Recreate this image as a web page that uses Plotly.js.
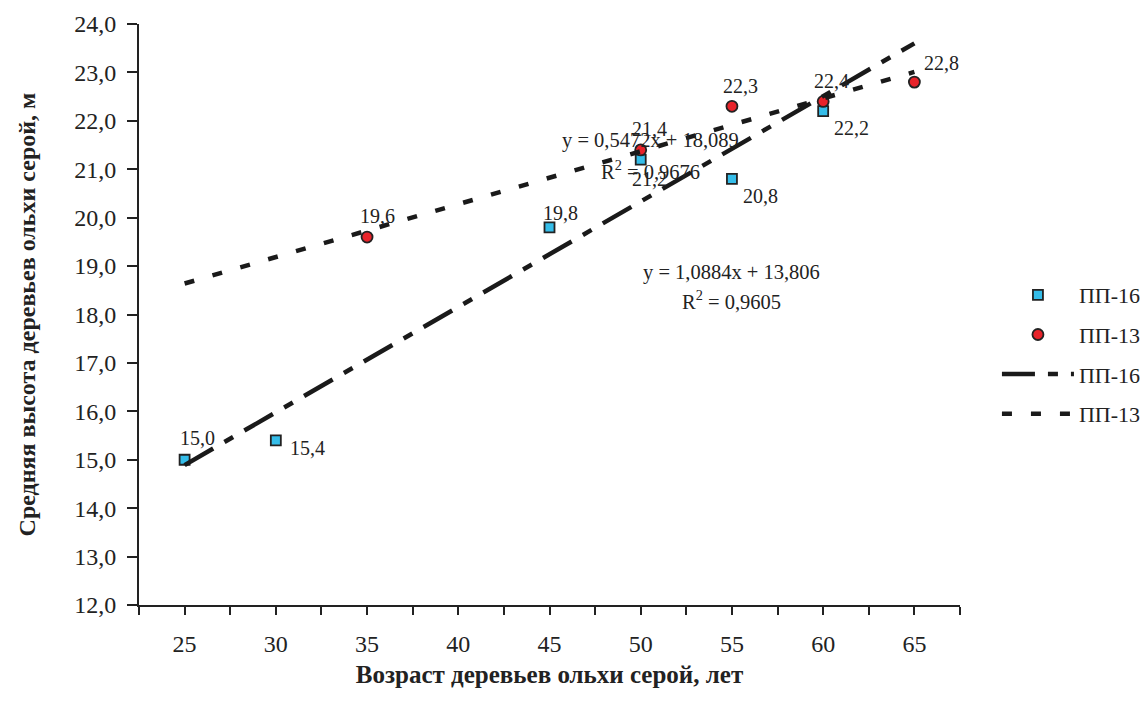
<!DOCTYPE html>
<html>
<head>
<meta charset="utf-8">
<script src="https://cdn.plot.ly/plotly-3.0.1.min.js"></script>
<style>html,body{margin:0;padding:0;background:#fff;}#chart{width:1148px;height:713px;}</style>
</head>
<body>
<div id="chart"></div>
<script>
// Data
const ages16 = [25, 30, 45, 50, 55, 60];
const heights16 = [15.0, 15.4, 19.8, 21.2, 20.8, 22.2];
const ages13 = [35, 50, 55, 60, 65];
const heights13 = [19.6, 21.4, 22.3, 22.4, 22.8];
// Trend line endpoints (as drawn in the reference)
const trendX16 = [25, 65];
const trendY16 = [14.89, 23.60];
const trendX13 = [25, 65];
const trendY13 = [18.64, 23.01];
const eq16 = ["y = 1,0884x + 13,806", "R<sup>2</sup> = 0,9605"];
const eq13 = ["y = 0,5472x + 18,089", "R<sup>2</sup> = 0,9676"];
const seriesNames = ["ПП-16", "ПП-13"];
const tickPositions = [22.5, 25, 27.5, 30, 32.5, 35, 37.5, 40, 42.5, 45, 47.5, 50, 52.5, 55, 57.5, 60, 62.5, 65, 67.5];
const tickLabels = ["", "25", "", "30", "", "35", "", "40", "", "45", "", "50", "", "55", "", "60", "", "65", ""];

// label offsets (px) for data labels: [dx, dy]
const off16 = [[13, 22], [32, -8], [11, 14], [9, -19], [29, -17], [28, -17]];
const off13 = [[10, 21], [9, 21], [9, 20], [8, 20], [27, 19]];

const serif = "Liberation Serif, Times New Roman, serif";
const fmt = v => v.toFixed(1).replace('.', ',');
const ink = '#222';

const traces = [
  {x: ages16, y: heights16, name: seriesNames[0], mode: 'markers', type: 'scatter', legendgroup: 'a',
   marker: {symbol: 'square', size: 10, color: '#35bde9', line: {color: ink, width: 1.8}}},
  {x: ages13, y: heights13, name: seriesNames[1], mode: 'markers', type: 'scatter', legendgroup: 'b',
   marker: {symbol: 'circle', size: 11, color: '#e8232a', line: {color: ink, width: 1.8}}},
  {x: trendX16, y: trendY16, name: seriesNames[0], mode: 'lines', type: 'scatter', legendgroup: 'c',
   line: {color: '#1a1a1a', width: 4.5, dash: '33px,13px,10px,13px'}},
  {x: trendX13, y: trendY13, name: seriesNames[1], mode: 'lines', type: 'scatter', legendgroup: 'd',
   line: {color: '#1a1a1a', width: 4.5, dash: '10px,19px'}}
];

const labelFont = {family: serif, size: 20, color: ink};
const annotations = [];
ages16.forEach((a, i) => annotations.push({x: a, y: heights16[i], xref: 'x', yref: 'y', text: fmt(heights16[i]),
  showarrow: false, xanchor: 'center', yanchor: 'middle', xshift: off16[i][0], yshift: off16[i][1], font: labelFont}));
ages13.forEach((a, i) => annotations.push({x: a, y: heights13[i], xref: 'x', yref: 'y', text: fmt(heights13[i]),
  showarrow: false, xanchor: 'center', yanchor: 'middle', xshift: off13[i][0], yshift: off13[i][1], font: labelFont}));
const eqFont = {family: serif, size: 20.5, color: ink};
const eqPos = [[0.6236, 0.8003], [0.6236, 0.7487], [0.7211, 0.5731], [0.7211, 0.5249]];
[eq13[0], eq13[1], eq16[0], eq16[1]].forEach((t, i) => annotations.push({xref: 'paper', yref: 'paper',
  x: eqPos[i][0], y: eqPos[i][1], xanchor: 'center', yanchor: 'middle', text: t, showarrow: false, font: eqFont}));

const layout = {
  width: 1148, height: 713,
  margin: {l: 139, r: 188, t: 24, b: 108, autoexpand: false},
  paper_bgcolor: '#fff', plot_bgcolor: '#fff',
  separators: ', ',
  font: {family: serif, size: 22, color: ink},
  showlegend: true,
  legend: {x: 1.045, xanchor: 'left', xref: 'paper', y: 0.431, yanchor: 'middle', font: {family: serif, size: 22, color: ink},
           itemwidth: 72, tracegroupgap: 8, traceorder: 'grouped', bgcolor: 'rgba(0,0,0,0)'},
  xaxis: {
    range: [22.5, 67.5], tickmode: 'array', tickvals: tickPositions, ticktext: tickLabels,
    showline: true, linecolor: ink, linewidth: 2, ticks: 'outside', ticklen: 8, tickwidth: 2, tickcolor: ink,
    showgrid: false, zeroline: false, ticklabelstandoff: 8,
    tickfont: {family: serif, size: 24, color: ink},
    title: {text: '<b>Возраст деревьев ольхи серой, лет</b>', font: {family: serif, size: 25, color: ink}, standoff: 10}
  },
  yaxis: {
    range: [12, 24], tick0: 12, dtick: 1, tickformat: '.1f',
    showline: true, linecolor: ink, linewidth: 2, ticks: 'outside', ticklen: 10, tickwidth: 2, tickcolor: ink,
    showgrid: false, zeroline: false, ticklabelstandoff: 6,
    tickfont: {family: serif, size: 24, color: ink},
    title: {text: '<b>Средняя высота деревьев ольхи серой, м</b>', font: {family: serif, size: 24, color: ink}, standoff: 32}
  },
  annotations: annotations
};

Plotly.newPlot('chart', traces, layout, {displayModeBar: false, staticPlot: true});
</script>
</body>
</html>
